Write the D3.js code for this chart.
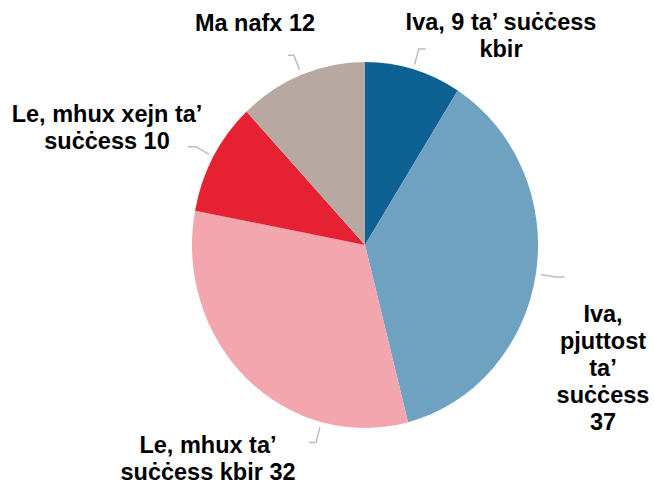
<!DOCTYPE html>
<html>
<head>
<meta charset="utf-8">
<script src="https://cdn.jsdelivr.net/npm/d3@7"></script>
<style>
  body { margin: 0; background: #fff; }
  text { font-family: "Liberation Sans", Arial, sans-serif; font-weight: bold; fill: #000; }
</style>
</head>
<body>
<div id="chart"></div>
<script>
// slices, clockwise from 12 o'clock
var categories = ["Iva, 9 ta’ suċċess kbir", "Iva, pjuttost ta’ suċċess", "Le, mhux ta’ suċċess kbir", "Le, mhux xejn ta’ suċċess", "Ma nafx"];
var values = [9, 37, 32, 10, 12];
var colors = ["#0e6193", "#6fa1c1", "#f3a6ad", "#e52132", "#b7a9a2"];

// label text lines, one array per slice
var labelLines = [
	["Iva, 9 ta’ suċċess", "kbir"],
	["Iva,", "pjuttost", "ta’", "suċċess", "37"],
	["Le, mhux ta’", "suċċess kbir 32"],
	["Le, mhux xejn ta’", "suċċess 10"],
	["Ma nafx 12"]
];

// layout of labels and leader lines (not data)
var labelPos = [
	{x: 501, y: 30, tick: 7, angle: null},
	{x: 603, y: 322, tick: 9, angle: null},
	{x: 208, y: 453, tick: -7, angle: 194.7},
	{x: 107, y: 122, tick: -8, angle: null},
	{x: 255, y: 31, tick: -6, angle: null}
];

var width = 654, height = 484;
var cx = 365, cy = 245, radius = 173;
var sy = 183 / 173; // the pie is drawn slightly taller than wide
var r1 = 178, r2 = 193;
var lineHeight = 27;

var svg = d3.select("#chart")
	.append("svg")
	.attr("width", width)
	.attr("height", height);

var g = svg.append("g")
	.attr("transform", "translate(" + cx + "," + cy + ") scale(1," + sy + ")");

var pie = d3.pie().sort(null).value(function(d) { return d; });
var arcs = pie(values);

var arc = d3.arc().innerRadius(0).outerRadius(radius);

g.selectAll(".slice")
	.data(arcs)
	.enter().append("path")
	.attr("class", "slice")
	.attr("d", arc)
	.style("fill", function(d, i) { return colors[i]; });

// leader lines, drawn unscaled so the stroke stays even
svg.selectAll(".leader")
	.data(arcs)
	.enter().append("polyline")
	.attr("class", "leader")
	.attr("points", function(d, i) {
		var p = labelPos[i];
		var a = p.angle != null ? p.angle * Math.PI / 180 : (d.startAngle + d.endAngle) / 2;
		var p1 = d3.pointRadial(a, r1);
		var p2 = d3.pointRadial(a, r2);
		p1 = [cx + p1[0], cy + p1[1] * sy];
		p2 = [cx + p2[0], cy + p2[1] * sy];
		return [p1, p2, [p2[0] + p.tick, p2[1]]].map(function(q) { return q.join(","); }).join(" ");
	})
	.style("fill", "none")
	.style("stroke", "#bdbdbd")
	.style("stroke-width", 1.5);

// labels
var labels = svg.selectAll(".label")
	.data(arcs)
	.enter().append("text")
	.attr("class", "label")
	.attr("text-anchor", "middle")
	.style("font-size", "23.5px");

labels.each(function(d, i) {
	var t = d3.select(this);
	labelLines[i].forEach(function(line, j) {
		t.append("tspan")
			.attr("x", labelPos[i].x)
			.attr("y", labelPos[i].y + j * lineHeight)
			.text(line);
	});
});
</script>
</body>
</html>
